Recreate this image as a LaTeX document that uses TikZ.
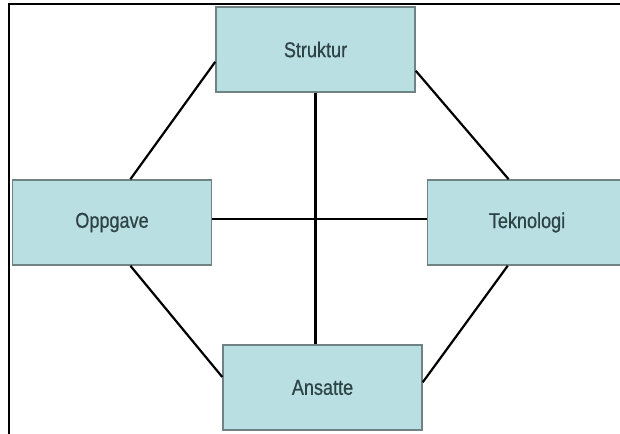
\documentclass[tikz,border=0pt]{standalone}
\usepackage{fontspec}
\newfontfamily\boxfont[FakeStretch=0.84,FakeBold=0.6]{Liberation Sans}
\usepackage{tikz}
\definecolor{boxfill}{HTML}{BADFE2}
\definecolor{boxedge}{HTML}{6F8385}
\definecolor{boxtext}{HTML}{2E4346}
\tikzset{main node/.style={rectangle,fill=boxfill,draw=boxedge,line width=1.5pt,
  minimum width=199pt,minimum height=85pt,inner sep=0pt,
  text=boxtext,font=\boxfont\fontsize{21.5}{24}\selectfont},
}

\begin{document}
\begin{tikzpicture}[x=1pt,y=-1pt,line width=2.2pt]
	\useasboundingbox (0,0) rectangle (620,433);
	\fill[white] (0,0) rectangle (620,433);
	\draw[line width=2.2pt] (9,437) -- (9,4) -- (624,4);
	
	\node[main node] (strk) at (315.5,49.5) {Struktur};
	\node[main node] (opg) at (112,222.5) {Oppgave};
	\node[main node] (tek) at (527,222.5) {Teknologi};
	\node[main node] (ans) at (322.5,387.5) {Ansatte};
	
	
	
	\path[draw,line width=2.2pt]
	(strk.187) edge (opg.67)
	(strk.348) edge (tek.113)
	(opg.293) edge (ans.174)
	(tek.246) edge (ans.3)
	(strk.south) edge (strk.south |- ans.north)
	([yshift=3.5pt]opg.east) edge ([yshift=3.5pt]opg.east -| tek.west)
	;
\end{tikzpicture}
\end{document}
